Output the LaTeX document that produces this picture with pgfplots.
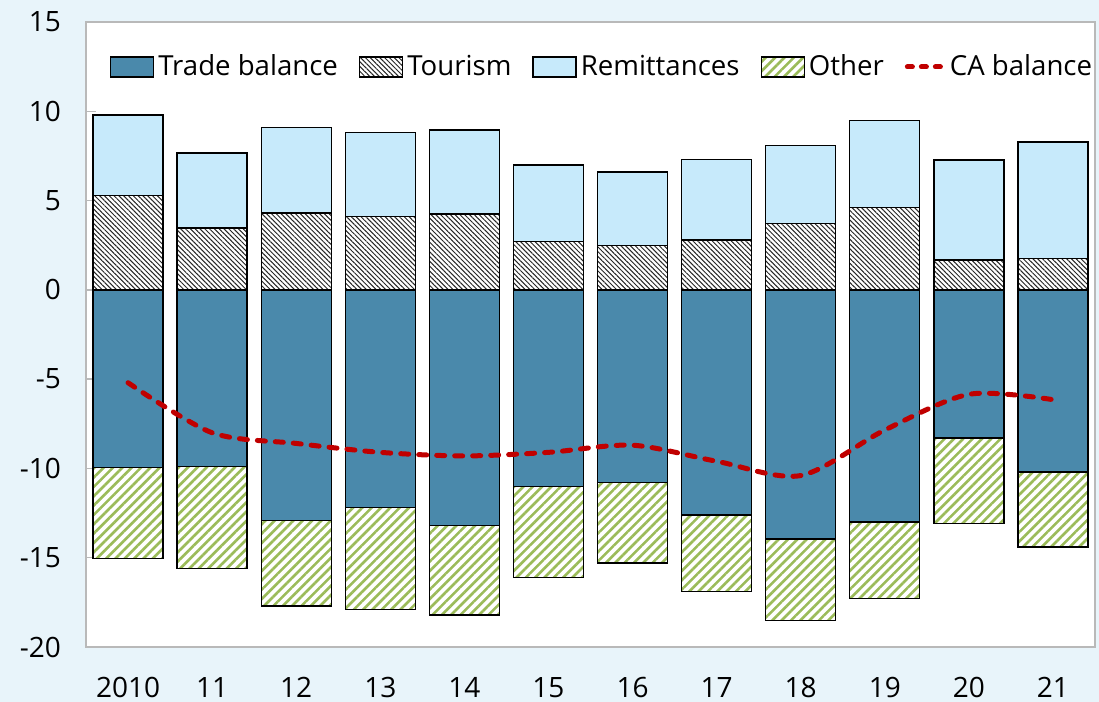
\documentclass[border=0pt]{standalone}
\usepackage{fontspec}
\setmainfont{Open Sans}
\usepackage{pgfplots}
\pgfplotsset{compat=1.18}
\usepackage{pgfplotstable}
\usetikzlibrary{patterns.meta}
\definecolor{bgc}{RGB}{232,244,250}
\definecolor{tradec}{RGB}{74,137,171}
\definecolor{remc}{RGB}{199,234,251}
\definecolor{otherc}{RGB}{155,187,89}
\definecolor{cac}{RGB}{192,0,0}
\definecolor{framec}{RGB}{185,185,185}

\pgfplotstableread{
x trade tour rem other ca
0 -9.95 5.3 4.5 -5.1 -5.2
1 -9.9 3.47 4.2 -5.7 -8.0
2 -12.9 4.3 4.8 -4.8 -8.6
3 -12.2 4.1 4.7 -5.7 -9.1
4 -13.2 4.25 4.7 -5.0 -9.3
5 -11.0 2.7 4.3 -5.1 -9.1
6 -10.8 2.5 4.1 -4.5 -8.7
7 -12.6 2.8 4.5 -4.3 -9.6
8 -13.95 3.7 4.4 -4.55 -10.4
9 -13.0 4.6 4.9 -4.3 -7.85
10 -8.3 1.68 5.6 -4.8 -5.85
11 -10.2 1.74 6.55 -4.2 -6.15
}\data

\tikzset{
  tourpat/.style={preaction={fill=white}, pattern={Lines[angle=-45,distance=1.7pt,line width=0.5pt]}, pattern color=black!85},
  otherpat/.style={preaction={fill=white}, pattern={Lines[angle=45,distance=3.3pt,line width=1.3pt]}, pattern color=otherc},
}
\pgfplotsset{
  boxlegend/.style={legend image code/.code={\draw[##1] (0pt,-5pt) rectangle (21.5pt,5pt);}},
  linelegend/.style={legend image code/.code={\draw[##1] (1pt,0pt) -- (19pt,0pt);}},
}

\begin{document}
\begin{tikzpicture}
\fill[bgc] (-43pt,-27.5pt) rectangle (506.5pt,323.5pt);
\useasboundingbox (-43pt,-27.5pt) rectangle (506.5pt,323.5pt);
\begin{axis}[
  scale only axis,
  width=504.5pt, height=312.5pt,
  xmin=-0.5, xmax=11.5,
  ymin=-20, ymax=15,
  ytick={-20,-15,...,15},
  xtick={0,...,11},
  xticklabels={2010,11,12,13,14,15,16,17,18,19,20,21},
  xtick style={draw=none},
  ytick pos=left,
  tick align=inside,
  major tick length=5pt,
  ytick style={framec, line width=0.75pt},
  axis line style={framec, line width=0.75pt},
  axis background/.style={fill=white},
  tick label style={font=\fontsize{14}{16}\selectfont},
  /pgf/number format/assume math mode=true,
  yticklabel style={xshift=-9pt},
  xticklabel style={yshift=-6.5pt},
  ybar, bar width=35pt, bar shift=0pt,
  legend style={draw=none, fill=none, at={(axis description cs:0.5,1)}, anchor=center,
    yshift=-22.5pt, xshift=6.25pt, legend columns=-1,
    font=\fontsize{13.8}{16}\selectfont,
    /tikz/every odd column/.append style={column sep=0pt},
    /tikz/every even column/.append style={column sep=8.5pt}},
  legend cell align=left,
]
\addlegendimage{boxlegend, fill=tradec, draw=black, line width=0.7pt}
\addlegendentry{Trade balance}
\addlegendimage{boxlegend, tourpat, draw=black, line width=0.7pt}
\addlegendentry{Tourism}
\addlegendimage{boxlegend, fill=remc, draw=black, line width=0.7pt}
\addlegendentry{Remittances}
\addlegendimage{boxlegend, otherpat, draw=black, line width=0.7pt}
\addlegendentry{Other}
\addlegendimage{linelegend, cac, line width=2.5pt, line cap=round, dash pattern=on 2.5pt off 4.5pt}
\addlegendentry{CA balance}

\addplot[forget plot, fill=remc, draw=black, line width=0.7pt] table[x=x, y expr=\thisrow{tour}+\thisrow{rem}] {\data};
\addplot[forget plot, tourpat, draw=black, line width=0.7pt] table[x=x, y=tour] {\data};
\addplot[forget plot, otherpat, draw=black, line width=0.7pt] table[x=x, y expr=\thisrow{trade}+\thisrow{other}] {\data};
\addplot[forget plot, fill=tradec, draw=black, line width=0.7pt] table[x=x, y=trade] {\data};
\addplot[forget plot, sharp plot, smooth, tension=0.5, cac, line width=2.5pt, line cap=round, dash pattern=on 4pt off 5pt, mark=none] table[x=x, y=ca] {\data};
\end{axis}
\end{tikzpicture}
\end{document}
